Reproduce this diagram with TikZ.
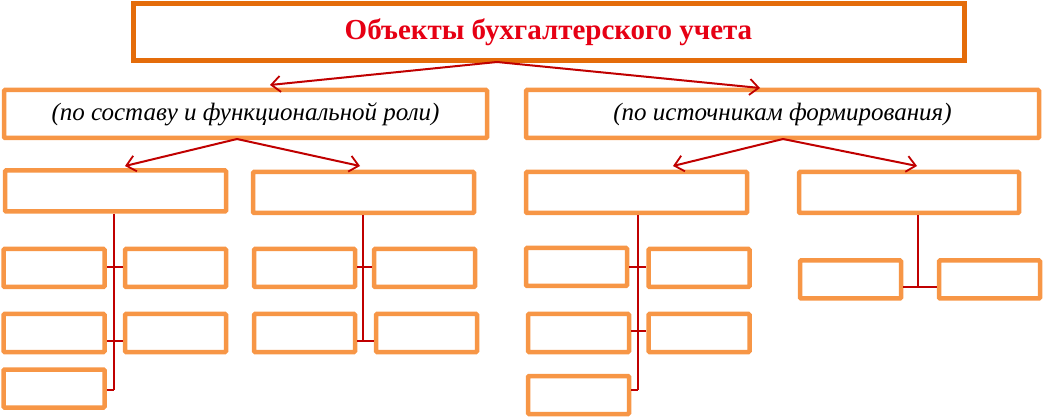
\documentclass[tikz,border=0pt]{standalone}
\usepackage{fontspec}
\setmainfont{Liberation Serif}
\usetikzlibrary{arrows.meta}
\definecolor{topor}{RGB}{228,108,10}
\definecolor{boxor}{RGB}{247,150,70}
\definecolor{conred}{RGB}{192,0,0}
\definecolor{titred}{RGB}{230,0,20}
\tikzset{
  box/.style={draw=boxor, line width=4.5pt, fill=white, inner sep=0pt, rounded corners=1pt},
  small/.style={box, minimum width=101pt, minimum height=38pt},
  mid/.style={box, minimum width=221pt, minimum height=41pt},
  arr/.style={draw=conred, line width=2pt, -{Straight Barb[length=9pt,width=16pt,line width=1.8pt]}},
  conn/.style={draw=conred, line width=1.5pt}
}
\begin{document}
\begin{tikzpicture}[x=1pt,y=-1pt]
\useasboundingbox (0,0) rectangle (1046,419);
% top
\node[box, draw=topor, line width=5pt, rounded corners=0pt, minimum width=831pt, minimum height=57pt] (top) at (548.5,32.5)
  {\fontsize{29}{33}\selectfont\bfseries\color{titred}Объекты бухгалтерского учета};
% level 2
\node[box, minimum width=483pt, minimum height=48pt] (L) at (245.5,114)
  {\fontsize{25}{29}\selectfont\itshape(по составу и функциональной роли)};
\node[box, minimum width=513pt, minimum height=48pt] (R) at (782.5,114)
  {\fontsize{25}{29}\selectfont\itshape(по источникам формирования)};
% level 3
\node[mid] (A) at (115.5,191) {};
\node[mid] (B) at (363.5,192.5) {};
\node[mid] (C) at (636.5,192.5) {};
\node[mid, minimum width=220pt] (D) at (909,192.5) {};
% small boxes
\node[small] (A11) at (54,268) {};
\node[small] (A12) at (175.5,268) {};
\node[small] (A21) at (54,333) {};
\node[small] (A22) at (175.5,333) {};
\node[small] (A31) at (54,388.5) {};
\node[small] (B11) at (304.5,268) {};
\node[small] (B12) at (424.5,268) {};
\node[small] (B21) at (304.5,333) {};
\node[small] (B22) at (426.5,333) {};
\node[small] (C11) at (576.5,267) {};
\node[small] (C12) at (699,268) {};
\node[small] (C21) at (578.5,333) {};
\node[small] (C22) at (699,333) {};
\node[small] (C31) at (578.5,395) {};
\node[small] (D1) at (850.5,279.5) {};
\node[small] (D2) at (989.5,279.5) {};
% arrows
\coordinate (t0) at (497,62);
\coordinate (l0) at (237,139);
\coordinate (r0) at (783,139);
\draw[arr] (t0) -- (270,85) coordinate (Ltip);
\draw[arr] (t0) -- (760,88) coordinate (Rtip);
\draw[arr] (l0) -- (125,166) coordinate (Atip);
\draw[arr] (l0) -- (360,166) coordinate (Btip);
\draw[arr] (r0) -- (673,166) coordinate (Ctip);
\draw[arr] (r0) -- (917,166) coordinate (Dtip);
% trunks
\coordinate (ta) at (114,390);
\coordinate (tb) at (363,341);
\coordinate (tc) at (638,390);
\coordinate (td) at (918,287);
\draw[conn] (A.south -| ta) -- (ta);
\draw[conn] (B.south -| tb) -- (tb);
\draw[conn] (C.south -| tc) -- (tc);
\draw[conn] (D.south -| td) -- (td);
% tees
\draw[conn] (A11.east |- 0,267) -- (A12.west |- 0,267);
\draw[conn] (A21.east |- 0,341) -- (A22.west |- 0,341);
\draw[conn] (A31.east |- ta) -- (ta);
\draw[conn] (B11.east |- 0,267) -- (B12.west |- 0,267);
\draw[conn] (B21.east |- tb) -- (B22.west |- tb);
\draw[conn] (C11.east |- 0,267) -- (C12.west |- 0,267);
\draw[conn] (C21.east |- 0,331) -- (C22.west |- 0,331);
\draw[conn] (C31.east |- tc) -- (tc);
\draw[conn] (D1.east |- td) -- (D2.west |- td);
\end{tikzpicture}
\end{document}
